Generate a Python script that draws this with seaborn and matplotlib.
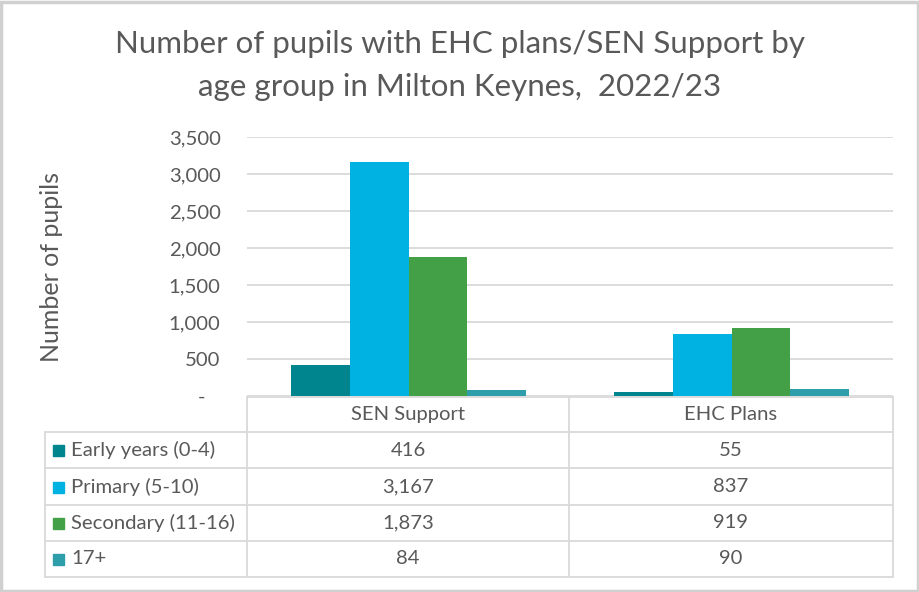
import pandas as pd
import matplotlib.pyplot as plt
import seaborn as sns
from matplotlib.lines import Line2D
from matplotlib.patches import Rectangle

# chart data
categories = ['SEN Support', 'EHC Plans']
age_groups = ['Early years (0-4)', 'Primary (5-10)', 'Secondary (11-16)', '17+']
early_years = [416, 55]
primary = [3167, 837]
secondary = [1873, 919]
over_17 = [84, 90]
y_ticks = [0, 500, 1000, 1500, 2000, 2500, 3000, 3500]
colours = ['#00858E', '#00B2E2', '#43A047', '#2E9FAA']

series = [early_years, primary, secondary, over_17]
df = pd.DataFrame({
    'category': [c for s in series for c in categories],
    'group': [g for g, s in zip(age_groups, series) for _ in categories],
    'value': [v for s in series for v in s],
})

sns.set_style('white')
plt.rcParams['font.family'] = ['Lato', 'DejaVu Sans']
text_col = '#595959'
line_col = '#D9D9D9'
fs = 14.6

W, H = 920, 592
fig = plt.figure(figsize=(W / 100, H / 100), dpi=100)


def fx(px):
    return px / W


def fy(py):
    return 1 - py / H


# outer border
fig.add_artist(Rectangle((0.001, 0.001), 0.997, 0.996, transform=fig.transFigure,
                         fill=False, edgecolor='#D0D0D0', lw=2.5))

left, right, top, bottom = 247, 893, 137, 396
ax = fig.add_axes([fx(left), fy(bottom), fx(right - left), (bottom - top) / H])
sns.barplot(data=df, x='category', y='value', hue='group', order=categories,
            hue_order=age_groups, palette=colours, width=0.727, gap=0,
            saturation=1, ax=ax, legend=False, edgecolor='none')
ax.set_xlim(-0.5, 1.5)
ax.set_ylim(0, 3500)
ax.set_yticks(y_ticks)
ax.set_yticklabels(['-   '] + [f'{v:,}' for v in y_ticks[1:]], color=text_col, fontsize=fs)
ax.tick_params(axis='y', length=0, pad=19)
ax.set_xticks([])
ax.set_xlabel('')
ax.set_ylabel('')
ax.yaxis.grid(True, color=line_col, lw=1.3)
ax.set_axisbelow(True)
for s in ax.spines.values():
    s.set_visible(False)

fig.text(fx(52), fy(267), 'Number of pupils', rotation=90, ha='center', va='center',
         color=text_col, fontsize=18)
fig.text(0.5, fy(53), 'Number of pupils with EHC plans/SEN Support by',
         ha='center', va='baseline', color=text_col, fontsize=22.5)
fig.text(0.5, fy(96), 'age group in Milton Keynes,  2022/23',
         ha='center', va='baseline', color=text_col, fontsize=22.5)

# data table
row_y = [397, 432, 468, 505, 541, 577]
col_x = [45, 247, 569, 893]


def hline(x0, x1, y):
    fig.add_artist(Line2D([fx(x0), fx(x1)], [fy(y), fy(y)], color=line_col, lw=1.3))


def vline(x, y0, y1):
    fig.add_artist(Line2D([fx(x), fx(x)], [fy(y0), fy(y1)], color=line_col, lw=1.3))


hline(col_x[1], col_x[3], row_y[0])
for y in row_y[1:]:
    hline(col_x[0], col_x[3], y)
vline(col_x[0], row_y[1], row_y[-1])
for x in col_x[1:]:
    vline(x, row_y[0], row_y[-1])

for j, cat in enumerate(categories):
    cx = (col_x[j + 1] + col_x[j + 2]) / 2
    fig.text(fx(cx), fy((row_y[0] + row_y[1]) / 2), cat, ha='center', va='center',
             color=text_col, fontsize=fs)

for i, (g, s, c) in enumerate(zip(age_groups, series, colours)):
    cy = (row_y[i + 1] + row_y[i + 2]) / 2
    fig.add_artist(Rectangle((fx(53), fy(cy + 6)), fx(11), 11 / H,
                             transform=fig.transFigure, color=c))
    fig.text(fx(71), fy(cy), g, ha='left', va='center', color=text_col, fontsize=fs)
    for j, v in enumerate(s):
        cx = (col_x[j + 1] + col_x[j + 2]) / 2
        fig.text(fx(cx), fy(cy), f'{v:,}', ha='center', va='center',
                 color=text_col, fontsize=fs)

fig.savefig('out.png', dpi=100, facecolor='white')
